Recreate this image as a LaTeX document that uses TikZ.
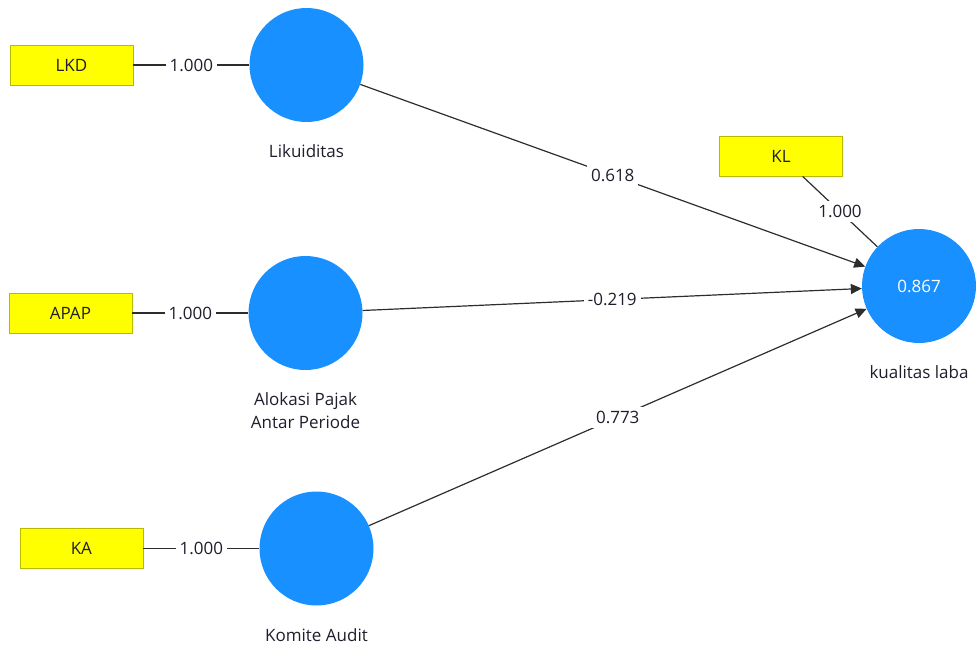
\documentclass[tikz,border=0pt]{standalone}
\usepackage{fontspec}
\setmainfont{Open Sans}
\usetikzlibrary{positioning, arrows.meta}
\definecolor{lvblue}{RGB}{24,144,255}
\definecolor{mvyellow}{RGB}{255,255,0}
\definecolor{mvborder}{RGB}{185,185,0}
\definecolor{pathgray}{RGB}{45,45,45}
\definecolor{labeltext}{RGB}{30,30,45}
\tikzstyle{indicator} = [rectangle, minimum width = 123pt, minimum height = 40pt,
	text centered, line width = 0.8pt, draw = mvborder, fill = mvyellow, text = labeltext]
\tikzstyle{construct} = [circle, minimum size = 114pt, inner sep = 0pt,
	fill = lvblue, text = white]
\tikzstyle{weight} = [fill = white, inner sep = 4pt, text = labeltext]
\tikzstyle{link} = [draw = pathgray, line width = 1.2pt]
\tikzstyle{arrow} = [link, -{Triangle[length = 11pt, width = 10pt]}]

\begin{document}
\begin{tikzpicture}[x = 1pt, y = -1pt, node distance = 116pt,
	font = \fontsize{17}{23}\selectfont,
	every label/.style = {text = labeltext, align = center, yshift = -19pt}]

\useasboundingbox (0, 0) rectangle (977, 650);

% constructs
\node (Lik) [construct, label = below:Likuiditas] at (306.5, 65) {};
\node (Apa) [construct, label = below:{Alokasi Pajak\\Antar Periode}] at (305.5, 313) {};
\node (Kom) [construct, label = below:Komite Audit] at (316.5, 548.5) {};
\node (Kual) [construct, label = below:kualitas laba] at (919, 286) {0.867};

% indicators
\node (LKD) [indicator, left = of Lik] {LKD};
\node (APAP) [indicator, left = of Apa] {APAP};
\node (KA) [indicator, left = of Kom] {KA};
\node (KL) [indicator] at (781, 156) {KL};

\draw [link] (LKD) -- node [weight] {1.000} (Lik);
\draw [link] (APAP) -- node [weight] {1.000} (Apa);
\draw [link] (KA) -- node [weight] {1.000} (Kom);
\draw [link] (KL) -- node [weight] {1.000} (Kual);

\draw [arrow] (Lik) -- node [weight] {0.618} (Kual);
\draw [arrow] (Apa) -- node [weight] {-0.219} (Kual);
\draw [arrow] (Kom) -- node [weight] {0.773} (Kual);
\end{tikzpicture}
\end{document}
